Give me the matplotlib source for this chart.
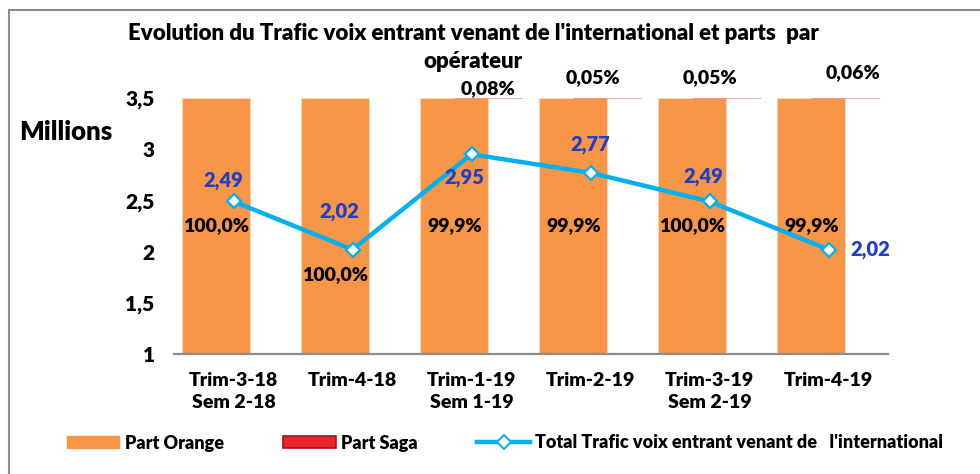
import numpy as np
import matplotlib
matplotlib.use('Agg')
import matplotlib.pyplot as plt
from matplotlib.patches import Patch, Rectangle
from matplotlib.lines import Line2D

plt.rcParams['font.family'] = ['Lato', 'DejaVu Sans']
plt.rcParams['font.weight'] = 'heavy'

# ------------------ data ------------------
categories = ['Trim-3-18\nSem 2-18', 'Trim-4-18', 'Trim-1-19\nSem 1-19',
              'Trim-2-19', 'Trim-3-19\nSem 2-19', 'Trim-4-19']
total_trafic = [2.49, 2.02, 2.95, 2.77, 2.49, 2.02]   # millions
part_orange = [100.0, 100.0, 99.9, 99.9, 100.0, 99.9]  # %
part_saga = [0.0, 0.0, 0.08, 0.05, 0.05, 0.06]          # %
# -------------------------------------------

orange = '#F79646'
blue_line = '#00B0F0'
blue_text = '#1F3FC8'
fw = 'heavy'

fig = plt.figure(figsize=(9.8, 4.74), dpi=100)

# bars on the bottom axes (0..100 %), line on a twin axes (1..3.5 millions)
axb = fig.add_axes([174 / 980, 1 - 354 / 474, 714 / 980, 256 / 474])
x = np.arange(len(categories))
shift = 0.145
width = 0.571

axb.bar(x - shift, part_orange, width=width, color=orange,
        edgecolor='#FBD3B4', linewidth=0.8, zorder=2)
saga = np.array(part_saga)
mask = saga > 0
axb.bar(x[mask] + shift, saga[mask], width=width,
        bottom=np.array(part_orange)[mask], color='#E8262A', alpha=0.35,
        edgecolor='#E8262A', linewidth=1.6, zorder=3)
axb.set_ylim(0, 100)
axb.set_xlim(-0.5, len(categories) - 0.5)
axb.set_yticks([])
axb.set_xticks(x)
axb.set_xticklabels(categories, fontsize=14, fontweight=fw, linespacing=1.35)
axb.tick_params(axis='x', length=0, pad=13)
for s in ['top', 'left', 'right']:
    axb.spines[s].set_visible(False)
axb.spines['bottom'].set_color('#8C8C8C')
axb.spines['bottom'].set_linewidth(1.6)

# percent labels for Orange (middle of bars)
orange_off = [(0, 0), (0, -49), (0, 0), (0, 0), (0, 0), (0, 0)]
for i, v in enumerate(part_orange):
    axb.annotate(f'{v:.1f}%'.replace('.', ','), xy=(x[i] - shift, 50),
                 xytext=orange_off[i], textcoords='offset pixels',
                 ha='center', va='center', fontsize=14, fontweight=fw,
                 color='black', zorder=5)

# percent labels for Saga (above the bars)
saga_off = {2: (-1, 9), 3: (-15, 20), 4: (-17, 20), 5: (7, 25)}
for i, v in enumerate(part_saga):
    if v > 0:
        axb.annotate(f'{v:.2f}%'.replace('.', ','), xy=(x[i] + shift, 100),
                     xytext=saga_off[i], textcoords='offset pixels',
                     ha='center', va='center', fontsize=14, fontweight=fw,
                     color='black', annotation_clip=False)

ax = axb.twinx()
ax.set_ylim(1, 3.5)
ax.yaxis.set_ticks_position('left')
ax.set_yticks([1, 1.5, 2, 2.5, 3, 3.5])
ax.set_yticklabels(['1', '1,5', '2', '2,5', '3', '3,5'], fontsize=15, fontweight=fw)
ax.tick_params(axis='y', length=0, pad=14)
for s in ax.spines.values():
    s.set_visible(False)

ax.plot(x, total_trafic, color=blue_line, linewidth=3.2, marker='D',
        markersize=7.5, markerfacecolor='white', markeredgecolor=blue_line,
        markeredgewidth=1.6, zorder=4)

# value labels for the line
val_off = [(-10, 21), (-13, 38), (-7, -23), (0, 28), (-6, 25), (42, 0)]
for i, v in enumerate(total_trafic):
    ax.annotate(f'{v:.2f}'.replace('.', ','), xy=(x[i], v),
                xytext=val_off[i], textcoords='offset pixels',
                ha='center', va='center', fontsize=14.5, fontweight=fw,
                color=blue_text, zorder=6)

# title (two lines) and axis label
fig.text(473 / 980, 1 - 33 / 474,
         "Evolution du Trafic voix entrant venant de l'international et parts  par",
         ha='center', va='center', fontsize=16, fontweight=fw)
fig.text(473 / 980, 1 - 62 / 474, "opérateur",
         ha='center', va='center', fontsize=16, fontweight=fw)
fig.text(19 / 980, 1 - 132 / 474, 'Millions', ha='left', va='center',
         fontsize=18.5, fontweight=fw)

# legend
handles = [
    Patch(facecolor=orange, edgecolor=orange),
    Patch(facecolor='#E8262A', edgecolor='#B01015', linewidth=1.2),
    Line2D([0], [0], color=blue_line, linewidth=3.2, marker='D', markersize=7,
           markerfacecolor='white', markeredgecolor=blue_line, markeredgewidth=1.4),
]
labels = ['Part Orange', 'Part Saga', "Total Trafic voix entrant venant de   l'international"]
fig.legend(handles, labels, loc='center left', bbox_to_anchor=(67 / 980, 1 - 443 / 474),
           ncol=3, frameon=False, prop={'size': 13, 'weight': fw},
           handlelength=2.9, handleheight=0.6,
           handletextpad=0.3, columnspacing=3.3, borderpad=0, borderaxespad=0)

# chart border (goes past the right and bottom edges)
fig.add_artist(Rectangle((9 / 980, -0.2), 1.5, 1.2 - 10 / 474, transform=fig.transFigure,
                         fill=False, edgecolor='#8C8C8C', linewidth=1.5))

plt.savefig('out.png', dpi=100)
